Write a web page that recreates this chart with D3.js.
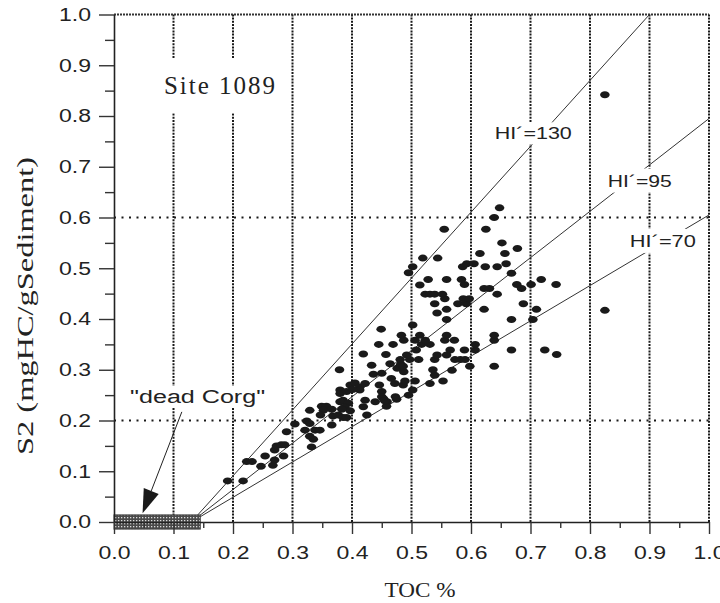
<!DOCTYPE html>
<html>
<head>
<meta charset="utf-8">
<script src="https://cdn.jsdelivr.net/npm/d3@7"></script>
<style>
body { margin: 0; background: #fff; }
svg { display: block; }
</style>
</head>
<body>
<svg id="chart" width="720" height="603"></svg>
<script>
// axis ticks
const xTicks = [0, 0.1, 0.2, 0.3, 0.4, 0.5, 0.6, 0.7, 0.8, 0.9, 1.0];
const yTicks = [0, 0.1, 0.2, 0.3, 0.4, 0.5, 0.6, 0.7, 0.8, 0.9, 1.0];
const xMinor = [0.05, 0.15, 0.25, 0.35, 0.45, 0.55, 0.65, 0.75, 0.85, 0.95];
const yMinor = [0.05, 0.15, 0.25, 0.35, 0.45, 0.55, 0.65, 0.75, 0.85, 0.95];
// dotted grid
const xGrid = [0.1, 0.2, 0.3, 0.4, 0.5, 0.6, 0.7, 0.8, 0.9, 1.0];
const yGrid = [0.2, 0.6];

// HI' reference lines (start TOC at S2=0, end point)
const hiNames = ["HI´=130", "HI´=95", "HI´=70"];
const hiStart = [0.13, 0.13, 0.13];
const hiEndX = [0.90, 1.0, 1.0];
const hiEndY = [1.0, 0.795, 0.605];

// "dead Corg" band (TOC range, S2 half height)
const deadToc = [0, 0.145];
const deadS2 = [-0.014, 0.014];

// samples: [TOC %, S2]
const samples = [
  [0.191,0.081],[0.217,0.081],[0.223,0.119],[0.232,0.119],[0.247,0.110],[0.254,0.130],
  [0.267,0.112],[0.270,0.122],[0.270,0.142],[0.273,0.150],[0.281,0.152],[0.287,0.152],
  [0.285,0.130],[0.290,0.178],[0.304,0.193],[0.324,0.199],[0.329,0.194],[0.329,0.220],
  [0.321,0.181],[0.338,0.181],[0.346,0.181],[0.329,0.169],[0.335,0.163],[0.332,0.148],
  [0.349,0.228],[0.357,0.228],[0.366,0.222],[0.352,0.220],[0.347,0.211],[0.368,0.209],
  [0.366,0.191],[0.377,0.211],[0.385,0.206],[0.391,0.206],[0.380,0.237],[0.385,0.240],
  [0.394,0.234],[0.388,0.226],[0.397,0.219],[0.383,0.222],[0.380,0.260],[0.380,0.253],
  [0.391,0.257],[0.379,0.300],[0.397,0.270],[0.405,0.274],[0.413,0.266],[0.413,0.260],
  [0.422,0.273],[0.422,0.240],[0.419,0.227],[0.425,0.211],[0.439,0.237],[0.446,0.270],
  [0.450,0.257],[0.450,0.247],[0.453,0.243],[0.459,0.237],[0.458,0.228],[0.473,0.247],
  [0.475,0.242],[0.472,0.273],[0.466,0.283],[0.419,0.331],[0.433,0.309],[0.436,0.291],
  [0.450,0.293],[0.464,0.312],[0.457,0.330],[0.445,0.350],[0.449,0.380],[0.469,0.350],
  [0.476,0.303],[0.482,0.311],[0.487,0.296],[0.486,0.307],[0.486,0.270],[0.489,0.278],
  [0.495,0.250],[0.502,0.260],[0.506,0.278],[0.531,0.273],[0.553,0.278],[0.539,0.289],
  [0.536,0.300],[0.568,0.299],[0.481,0.320],[0.497,0.320],[0.512,0.320],[0.539,0.320],
  [0.573,0.320],[0.582,0.320],[0.590,0.320],[0.598,0.307],[0.639,0.307],[0.492,0.329],
  [0.543,0.329],[0.559,0.329],[0.508,0.339],[0.565,0.339],[0.589,0.339],[0.607,0.339],
  [0.668,0.339],[0.724,0.339],[0.744,0.330],[0.517,0.350],[0.531,0.350],[0.607,0.350],
  [0.487,0.358],[0.506,0.358],[0.523,0.358],[0.556,0.358],[0.572,0.358],[0.639,0.358],
  [0.483,0.368],[0.514,0.368],[0.559,0.368],[0.639,0.368],[0.502,0.388],[0.559,0.399],
  [0.668,0.399],[0.704,0.399],[0.543,0.412],[0.559,0.419],[0.622,0.419],[0.710,0.419],
  [0.825,0.417],[0.539,0.430],[0.578,0.430],[0.592,0.430],[0.688,0.430],[0.556,0.440],
  [0.587,0.440],[0.597,0.440],[0.523,0.449],[0.531,0.449],[0.539,0.449],[0.552,0.449],
  [0.644,0.449],[0.514,0.467],[0.589,0.468],[0.622,0.460],[0.631,0.460],[0.677,0.468],
  [0.685,0.460],[0.701,0.468],[0.743,0.468],[0.528,0.478],[0.559,0.478],[0.584,0.478],
  [0.718,0.478],[0.668,0.490],[0.495,0.491],[0.502,0.503],[0.586,0.503],[0.593,0.509],
  [0.605,0.509],[0.624,0.503],[0.644,0.503],[0.659,0.509],[0.519,0.520],[0.544,0.520],
  [0.615,0.529],[0.657,0.529],[0.678,0.539],[0.652,0.550],[0.555,0.577],[0.625,0.577],
  [0.639,0.600],[0.648,0.619],[0.825,0.842],[0.401,0.261],[0.455,0.239]
];

const svg = d3.select("#chart");
const x = d3.scaleLinear().domain([0, 1]).range([114, 709]);
const y = d3.scaleLinear().domain([0, 1]).range([522, 14.5]);

const sans = "'Liberation Sans', Arial, sans-serif";
const serif = "'Liberation Serif', 'Times New Roman', serif";

// stipple fill for dead Corg band
const pat = svg.append("defs").append("pattern")
  .attr("id", "stip").attr("width", 3).attr("height", 3)
  .attr("patternUnits", "userSpaceOnUse");
pat.append("rect").attr("width", 3).attr("height", 3).attr("fill", "#4a4a4a");
pat.append("rect").attr("x", 1).attr("y", 1).attr("width", 1.3).attr("height", 1.3).attr("fill", "#ddd");

// grid
svg.append("g").selectAll("line").data(xGrid).join("line")
  .attr("x1", d => x(d)).attr("x2", d => x(d))
  .attr("y1", y(0)).attr("y2", y(1))
  .attr("stroke", "#1a1a1a").attr("stroke-width", 2)
  .attr("stroke-dasharray", "2,1.2");
svg.append("g").selectAll("line").data(yGrid).join("line")
  .attr("x1", x(0)).attr("x2", x(1))
  .attr("y1", d => y(d)).attr("y2", d => y(d))
  .attr("stroke", "#1a1a1a").attr("stroke-width", 2)
  .attr("stroke-dasharray", "2,5.5");
svg.append("line")
  .attr("x1", x(0)).attr("x2", x(1)).attr("y1", y(1)).attr("y2", y(1))
  .attr("stroke", "#333").attr("stroke-width", 2).attr("stroke-dasharray", "2,1");

// HI' lines
svg.append("g").selectAll("line").data(hiNames).join("line")
  .attr("x1", (d, i) => x(hiStart[i])).attr("y1", y(0))
  .attr("x2", (d, i) => x(hiEndX[i])).attr("y2", (d, i) => y(hiEndY[i]))
  .attr("stroke", "#333").attr("stroke-width", 1);

// labels with white backing (breaks grid / lines behind them)
function label(txt, tx, ty, opt) {
  const g = svg.append("g");
  const bg = g.append("rect").attr("fill", "#fff");
  const t = g.append("text")
    .attr("x", x(tx)).attr("y", y(ty))
    .attr("font-family", opt.font).attr("font-size", opt.size)
    .attr("fill", "#222")
    .attr("textLength", opt.len).attr("lengthAdjust", opt.adj || "spacingAndGlyphs")
    .text(txt);
  const b = t.node().getBBox();
  bg.attr("x", b.x - opt.px).attr("y", b.y - opt.py)
    .attr("width", b.width + 2 * opt.px).attr("height", b.height + 2 * opt.py);
}

label("Site 1089", 0.084, 0.843, {font: serif, size: 25, len: 111, px: 12, py: 14, adj: "spacing"});
label(hiNames[0], 0.640, 0.754, {font: sans, size: 16.5, len: 77, px: 2, py: 2});
label(hiNames[1], 0.830, 0.661, {font: sans, size: 16.5, len: 64, px: 3, py: 3});
label(hiNames[2], 0.867, 0.542, {font: sans, size: 16.5, len: 66, px: 2, py: 3});
label("\"dead Corg\"", 0.027, 0.235, {font: sans, size: 18, len: 135, px: 1, py: 1});

// dead Corg band
svg.append("rect")
  .attr("x", x(deadToc[0])).attr("y", y(deadS2[1]))
  .attr("width", x(deadToc[1]) - x(deadToc[0]))
  .attr("height", y(deadS2[0]) - y(deadS2[1]))
  .attr("fill", "url(#stip)").attr("stroke", "#444").attr("stroke-width", 1);

// arrow to the band
const a0 = [x(0.114), y(0.217)], a1 = [x(0.048), y(0.017)];
const ang = Math.atan2(a1[1] - a0[1], a1[0] - a0[0]);
const hl = 24, hw = 8;
const bx = a1[0] - hl * Math.cos(ang), by = a1[1] - hl * Math.sin(ang);
svg.append("line").attr("x1", a0[0]).attr("y1", a0[1]).attr("x2", bx).attr("y2", by)
  .attr("stroke", "#222").attr("stroke-width", 1);
svg.append("polygon")
  .attr("points", [
    [a1[0], a1[1]],
    [bx + hw * Math.sin(ang), by - hw * Math.cos(ang)],
    [bx - hw * Math.sin(ang), by + hw * Math.cos(ang)]
  ].map(p => p.join(",")).join(" "))
  .attr("fill", "#1a1a1a");

// samples
svg.append("g").selectAll("ellipse").data(samples).join("ellipse")
  .attr("cx", d => x(d[0])).attr("cy", d => y(d[1]))
  .attr("rx", 4.8).attr("ry", 3.5)
  .attr("fill", "#1a1a1a");

// axes
const fmt = d3.format(".1f");
const yAxis = svg.append("g").attr("transform", `translate(${x(0)},0)`)
  .call(d3.axisLeft(y).tickValues(yTicks).tickSize(15).tickSizeOuter(0).tickPadding(8).tickFormat(fmt));
const xAxis = svg.append("g").attr("transform", `translate(0,${y(0)})`)
  .call(d3.axisBottom(x).tickValues(xTicks).tickSize(12).tickSizeOuter(0).tickPadding(12).tickFormat(fmt));
svg.append("g").attr("transform", `translate(${x(0)},0)`)
  .call(d3.axisLeft(y).tickValues(yMinor).tickSize(9).tickFormat(""))
  .select(".domain").remove();
svg.append("g").attr("transform", `translate(0,${y(0)})`)
  .call(d3.axisBottom(x).tickValues(xMinor).tickSize(6).tickFormat(""))
  .select(".domain").remove();

svg.selectAll(".domain").attr("stroke", "#222").attr("stroke-width", 1.6);
svg.selectAll(".tick line").attr("stroke", "#333").attr("stroke-width", 1.4);
[yAxis, xAxis].forEach(ax => ax.selectAll(".tick text")
  .attr("font-family", sans).attr("font-size", 18).attr("fill", "#222")
  .attr("textLength", 32).attr("lengthAdjust", "spacingAndGlyphs"));

// axis titles
svg.append("text")
  .attr("transform", "translate(33,306) rotate(-90)")
  .attr("text-anchor", "middle")
  .attr("font-family", serif).attr("font-size", 24).attr("fill", "#222")
  .attr("textLength", 298).attr("lengthAdjust", "spacingAndGlyphs")
  .text("S2 (mgHC/gSediment)");
svg.append("text")
  .attr("x", 420).attr("y", 597)
  .attr("text-anchor", "middle")
  .attr("font-family", serif).attr("font-size", 21).attr("fill", "#222")
  .attr("textLength", 71).attr("lengthAdjust", "spacingAndGlyphs")
  .text("TOC %");
</script>
</body>
</html>
